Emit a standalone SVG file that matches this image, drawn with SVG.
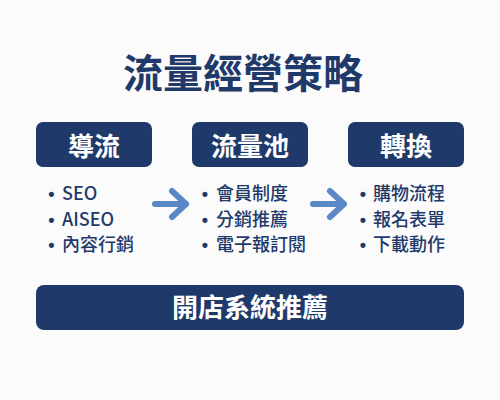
<svg xmlns="http://www.w3.org/2000/svg" width="500" height="400" viewBox="0 0 500 400">
<style>
.bg{fill:#fbfbfb}
.box{fill:#1f3a6a}
.title{font-family:"Noto Sans CJK TC","Noto Sans CJK SC",sans-serif;font-weight:700;font-size:40px;fill:#1f3a6a}
.lbl{font-family:"Noto Sans CJK TC","Noto Sans CJK SC",sans-serif;font-weight:700;font-size:26px;fill:#ffffff}
.item{font-family:"Noto Sans CJK TC","Noto Sans CJK SC",sans-serif;font-weight:500;font-size:18px;fill:#1f3a6a}
.dot{font-family:"Liberation Sans",sans-serif;font-weight:700;font-size:18px;fill:#1f3a6a}
.arr{fill:none;stroke:#5a87c5;stroke-width:6;stroke-linecap:round;stroke-linejoin:round}
</style>
<rect class="bg" x="0" y="0" width="500" height="400"/>
<text class="title" x="243" y="88" text-anchor="middle">流量經營策略</text>
<g id="node-daoliu">
<rect class="box" x="36" y="122" width="116" height="45" rx="7"/>
<text class="lbl" x="94" y="156" text-anchor="middle">導流</text>
<text class="dot" text-anchor="middle"><tspan x="51.5" y="200">•</tspan><tspan x="51.5" y="225.5">•</tspan><tspan x="51.5" y="251">•</tspan></text>
<text class="item"><tspan x="62" y="200">SEO</tspan><tspan x="62" y="225.5">AISEO</tspan><tspan x="62" y="251">內容行銷</tspan></text>
</g>
<g id="node-pool">
<rect class="box" x="192" y="122" width="116" height="45" rx="7"/>
<text class="lbl" x="250" y="156" text-anchor="middle">流量池</text>
<text class="dot" text-anchor="middle"><tspan x="205" y="200">•</tspan><tspan x="205" y="225.5">•</tspan><tspan x="205" y="251">•</tspan></text>
<text class="item"><tspan x="216" y="200">會員制度</tspan><tspan x="216" y="225.5">分銷推薦</tspan><tspan x="216" y="251">電子報訂閱</tspan></text>
</g>
<g id="node-convert">
<rect class="box" x="348" y="122" width="116" height="45" rx="7"/>
<text class="lbl" x="406" y="156" text-anchor="middle">轉換</text>
<text class="dot" text-anchor="middle"><tspan x="363" y="200">•</tspan><tspan x="363" y="225.5">•</tspan><tspan x="363" y="251">•</tspan></text>
<text class="item"><tspan x="373" y="200">購物流程</tspan><tspan x="373" y="225.5">報名表單</tspan><tspan x="373" y="251">下載動作</tspan></text>
</g>
<g id="node-system">
<rect class="box" x="36" y="285" width="428" height="45" rx="8"/>
<text class="lbl" x="250" y="317" text-anchor="middle">開店系統推薦</text>
</g>
<g id="connectors">
<path class="arr" d="M155 204 H186 M172 191 L186 204 L172 217"/>
<path class="arr" d="M313 204 H344 M330 191 L344 204 L330 217"/>
</g>
</svg>
